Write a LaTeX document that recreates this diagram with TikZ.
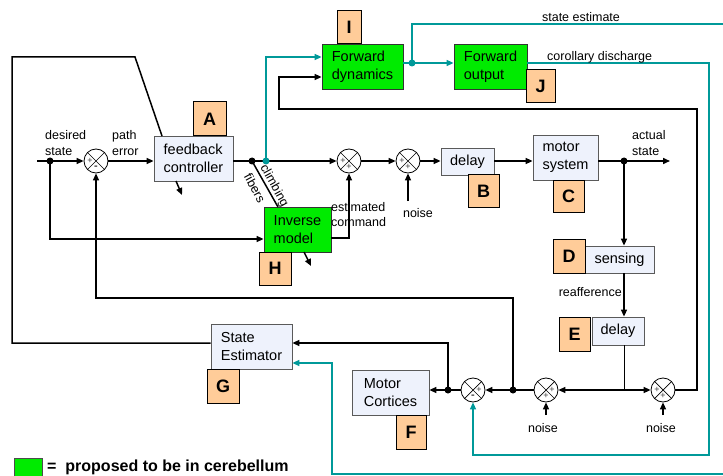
\documentclass[tikz,border=0pt]{standalone}
\usepackage{fontspec}
\setmainfont{Liberation Sans}
\usetikzlibrary{arrows.meta,calc}
\definecolor{boxblue}{RGB}{238,242,252}
\definecolor{boxgray}{RGB}{90,90,90}
\definecolor{lblorange}{RGB}{255,204,153}
\definecolor{cgreen}{RGB}{0,235,0}
\definecolor{tealc}{RGB}{0,153,153}
\begin{document}
\begin{tikzpicture}[x=1pt,y=-1pt,
 wire/.style={line width=1.5pt,black},
 twire/.style={line width=1.5pt,tealc},
 arr/.style={-{Triangle[length=7pt,width=6pt]}},
 bbox/.style={draw=boxgray,fill=boxblue,line width=0.8pt,align=left,font=\fontsize{14.5}{18}\selectfont,inner sep=0pt},
 gbox/.style={draw=black!80,fill=cgreen,line width=0.8pt,align=left,font=\fontsize{14.5}{18}\selectfont,inner sep=0pt},
 letter/.style={draw=black,fill=lblorange,line width=1pt,font=\fontsize{18}{20}\selectfont\bfseries,inner sep=0pt},
 lbl/.style={font=\fontsize{12.5}{16}\selectfont,inner sep=0pt,align=left},
 sumnode/.style={circle,draw,line width=0.8pt,fill=white,minimum size=24pt,inner sep=0pt,
   path picture={\draw[line width=0.7pt] (path picture bounding box.north west) -- (path picture bounding box.south east)
     (path picture bounding box.north east) -- (path picture bounding box.south west);}},
 sgn/.style={font=\fontsize{9}{9}\selectfont,inner sep=0pt,text=black!75},
]
\useasboundingbox (0,0) rectangle (723,476);

% ---- boxes ----
\node[bbox,minimum width=79pt,minimum height=45pt] (fc) at (193.5,158.5) {feedback\\controller};
\node[letter,minimum width=33pt,minimum height=34pt] (A) at (209.5,119) {A};
\node[gbox,minimum width=81pt,minimum height=45pt] (fd) at (362.5,66.5) {Forward\\dynamics};
\node[letter,minimum width=24pt,minimum height=33pt] (I) at (349,27.5) {I};
\node[gbox,minimum width=73pt,minimum height=45pt] (fo) at (490.5,66.5) {Forward\\output};
\node[letter,minimum width=29pt,minimum height=33pt] (J) at (540.5,86.5) {J};
\node[bbox,minimum width=53pt,minimum height=27pt] (dB) at (467.5,161.5) {delay};
\node[letter,minimum width=31pt,minimum height=32pt] (B) at (483.5,191) {B};
\node[bbox,minimum width=65pt,minimum height=45pt] (ms) at (565.5,157.5) {motor\\system};
\node[letter,minimum width=31pt,minimum height=32pt] (C) at (568.5,196) {C};
\node[gbox,minimum width=67pt,minimum height=45pt] (im) at (297.5,229.5) {Inverse\\model};
\node[letter,minimum width=32pt,minimum height=33pt] (H) at (275,268.5) {H};
\node[bbox,minimum width=69pt,minimum height=27pt] (sen) at (619.5,259.5) {sensing};
\node[letter,minimum width=32pt,minimum height=34pt] (D) at (569,256) {D};
\node[bbox,minimum width=52pt,minimum height=28pt] (dE) at (618,331) {delay};
\node[letter,minimum width=31pt,minimum height=34pt] (E) at (574.5,334) {E};
\node[bbox,minimum width=81pt,minimum height=45pt] (se) at (251.5,346.5) {State\\Estimator};
\node[letter,minimum width=32pt,minimum height=34pt] (G) at (223,386) {G};
\node[bbox,minimum width=77pt,minimum height=45pt] (mc) at (390.5,392.5) {Motor\\Cortices};
\node[letter,minimum width=30pt,minimum height=34pt] (F) at (411,432) {F};

% ---- summers ----
\node[sumnode] (s1) at (96,161) {};
\node[sumnode] (s2) at (349,161) {};
\node[sumnode] (s3) at (408,161) {};
\node[sumnode] (s4) at (473,390) {};
\node[sumnode] (s6) at (546,390) {};
\node[sumnode] (s5) at (663,390) {};
\node[sgn] (s1a) at ($(s1)+(-6,0)$) {+};
\node[sgn,font=\fontsize{11}{11}\selectfont\bfseries] (s1b) at ($(s1)+(0,7)$) {-};
\node[sgn] (s2a) at ($(s2)+(-6,0)$) {+};
\node[sgn] (s2b) at ($(s2)+(0,6)$) {+};
\node[sgn] (s3a) at ($(s3)+(-6,0)$) {+};
\node[sgn] (s3b) at ($(s3)+(0,6)$) {+};
\node[sgn] (s4a) at ($(s4)+(6,0)$) {+};
\node[sgn,font=\fontsize{11}{11}\selectfont\bfseries] (s4b) at ($(s4)+(0,7)$) {-};
\node[sgn] (s6a) at ($(s6)+(6,0)$) {+};
\node[sgn] (s6b) at ($(s6)+(0,6)$) {+};
\node[sgn] (s5a) at ($(s5)+(-6,0)$) {+};
\node[sgn] (s5b) at ($(s5)+(0,6)$) {+};

% ---- coordinates ----
\coordinate (in0) at (37,161);
\coordinate (d1) at (50,161);
\coordinate (d2) at (252,161);
\coordinate (d3) at (266,161);
\coordinate (d4) at (624,161);
\coordinate (out0) at (670,161);
\coordinate (d5) at (412,63);
\coordinate (d6) at (513,390);
\coordinate (d7) at (448,390);
\coordinate (j1) at (624,390);
\coordinate (k1) at (513,298);
\coordinate (k2) at (96,298);
\coordinate (k3) at (448,343);
\coordinate (k4) at (12,343);
\coordinate (k5) at (12,57);
\coordinate (k6) at (135,57);
\coordinate (k7) at (162,136);
\coordinate (k8) at (50,239);
\coordinate (k9) at (349,238);
\coordinate (k10) at (697,390);
\coordinate (k11) at (697,109);
\coordinate (k12) at (279,109);
\coordinate (k13) at (279,77);
\coordinate (t1) at (266,57);
\coordinate (t2) at (412,24);
\coordinate (t3) at (723,24);
\coordinate (t4) at (709,63);
\coordinate (t5) at (709,455);
\coordinate (t6) at (473,455);
\coordinate (t7) at (723,474);
\coordinate (t8) at (332,474);
\coordinate (t9) at (332,363);
\coordinate (cf) at (278,207);
\coordinate (n3) at (408,201);
\coordinate (n6) at (546,415);
\coordinate (n5) at (663,415);
\coordinate (la1) at (176,181);
\coordinate (la2) at (182,195);
\coordinate (lb1) at (304,252);
\coordinate (lb2) at (311,266);

% ---- black wires ----
\draw[wire,arr] (in0) -- (s1.west);
\draw[wire,arr] (s1.east) -- (s1.east -| fc.west);
\draw[wire] (d2 -| fc.east) -- (d2);
\draw[wire,arr] (d2) -- (s2.west);
\draw[wire,arr] (s2.east) -- (s3.west);
\draw[wire,arr] (s3.east) -- (s3.east -| dB.west);
\draw[wire,arr] (s3.east -| dB.east) -- (s3.east -| ms.west);
\draw[wire] (s3.east -| ms.east) -- (d4);
\draw[wire,arr] (d4) -- (out0);
\draw[wire,arr] (d4) -- (d4 |- sen.north);
\draw[wire,arr] (d4 |- sen.south) -- (d4 |- dE.north);
\draw[line width=0.8pt] (d4 |- dE.south) -- (j1);
\draw[wire,arr] (j1) -- (s6.east);
\draw[wire,arr] (j1) -- (s5.west);
\draw[wire,arr] (s6.west) -- (s4.east);
\draw[wire] (s4.west) -- (d7);
\draw[wire,arr] (d7) -- (d7 -| mc.east);
\draw[wire,arr] (d6) -- (k1) -- (k2) -- (s1.south);
\draw[wire,arr] (d7) -- (k3) -- (k3 -| se.east);
\draw[wire] (k3 -| se.west) -- (k4) -- (k5) -- (k6) -- (k7);
\draw[wire,arr] (d1) -- (k8) -- (k8 -| im.west);
\draw[wire,arr] (k9 -| im.east) -- (k9) -- (s2.south);
\draw[wire,arr] (n3) -- (s3.south);
\draw[wire,arr] (n6) -- (s6.south);
\draw[wire,arr] (n5) -- (s5.south);
\draw[wire,arr] (s5.east) -- (k10) -- (k11) -- (k12) -- (k13) -- (k13 -| fd.west);
\draw[wire] (d2) -- (cf);
\draw[wire,arr] (la1) -- (la2);
\draw[wire,arr] (lb1) -- (lb2);

% ---- teal wires ----
\draw[twire,arr] (d3) -- (t1) -- (t1 -| fd.west);
\draw[twire] (d5 -| fd.east) -- (d5);
\draw[twire,arr] (d5) -- (d5 -| fo.west);
\draw[twire] (d5) -- (t2) -- (t3);
\draw[twire,arr] (t4 -| fo.east) -- (t4) -- (t5) -- (t6) -- (s4.south);
\draw[twire,arr] (t7) -- (t8) -- (t9) -- (t9 -| se.east);

% ---- dots ----
\fill (d1) circle (3.5pt);
\fill (d2) circle (3.5pt);
\fill[tealc] (d3) circle (3.5pt);
\fill (d4) circle (3.5pt);
\fill[tealc] (d5) circle (3.5pt);
\fill (d6) circle (3.5pt);
\fill (d7) circle (3.5pt);

% ---- labels ----
\node[lbl,anchor=west] (lds) at (45,143) {desired\\state};
\node[lbl,anchor=west] (lpe) at (112,143) {path\\error};
\node[lbl,anchor=west] (las) at (632,143) {actual\\state};
\node[lbl,anchor=west,font=\fontsize{12.5}{15}\selectfont] (lec) at (331,215) {estimated\\command};
\node[lbl,anchor=east] (lre) at (622,292) {reafference};
\node[lbl] (lse) at (581,17) {state estimate};
\node[lbl,anchor=west] (lcd) at (547,57) {corollary discharge};
\node[lbl,rotate=-61] (lcl) at (274,186) {climbing};
\node[lbl,rotate=-61] (lfi) at (255,188) {fibers};
\node[lbl] (nl3) at (418,213) {noise};
\node[lbl] (nl6) at (543,428) {noise};
\node[lbl] (nl5) at (661,428) {noise};

% ---- legend ----
\node[draw=black!70,fill=cgreen,line width=0.8pt,minimum width=28pt,minimum height=22pt,inner sep=0pt] (leg) at (28,469) {};
\node[anchor=west,font=\fontsize{16}{18}\selectfont\bfseries,inner sep=0pt] (legt) at (47,467) {=\ \ proposed to be in cerebellum};
\end{tikzpicture}
\end{document}
